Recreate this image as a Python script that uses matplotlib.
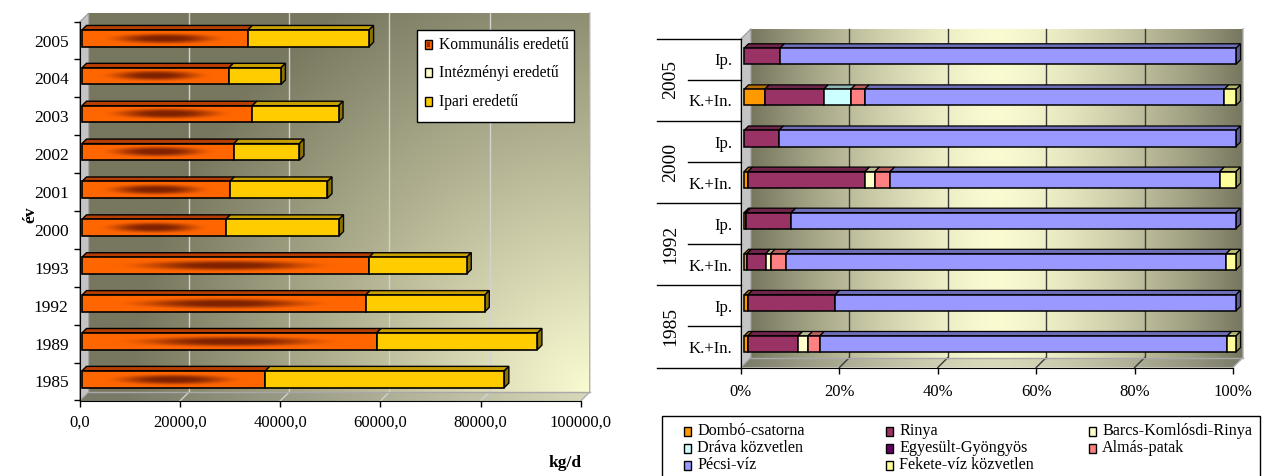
import numpy as np
import matplotlib
matplotlib.use("Agg")
import matplotlib.pyplot as plt
from matplotlib.patches import Polygon, Rectangle
from matplotlib.colors import to_rgb

plt.rcParams["font.family"] = ["Liberation Serif", "DejaVu Serif"]
plt.rcParams["font.size"] = 12

# ---------------- data: daily load by origin (kg/d) ----------------
years = ["1985", "1989", "1992", "1993", "2000", "2001", "2002", "2003", "2004", "2005"]
kommunalis = [36600, 58800, 56600, 57300, 28700, 29500, 30300, 34000, 29300, 33100]
intezmenyi = [0, 0, 0, 0, 0, 0, 0, 0, 0, 0]
ipari = [47700, 32100, 23800, 19500, 22600, 19500, 13100, 17200, 10400, 24200]
load_ticks = [0, 20000, 40000, 60000, 80000, 100000]
load_tick_labels = ["0,0", "20000,0", "40000,0", "60000,0", "80000,0", "100000,0"]
load_names = ["Kommunális eredetű", "Intézményi eredetű", "Ipari eredetű"]

# ---------------- data: share of receiving waters (%) ----------------
row_labels = ["K.+In.", "Ip.", "K.+In.", "Ip.", "K.+In.", "Ip.", "K.+In.", "Ip."]
group_years = ["1985", "1992", "2000", "2005"]
catchments = ["Dombó-csatorna", "Rinya", "Barcs-Komlósdi-Rinya", "Dráva közvetlen",
              "Egyesült-Gyöngyös", "Almás-patak", "Pécsi-víz", "Fekete-víz közvetlen"]
dombo = [0.8, 0.8, 0.6, 0.4, 0.8, 0.0, 4.2, 0.0]
rinya = [10.2, 17.7, 3.8, 9.2, 23.8, 7.1, 12.0, 7.3]
barcs = [2.0, 0.0, 1.0, 0.0, 2.0, 0.0, 0.0, 0.0]
drava = [0.0, 0.0, 0.0, 0.0, 0.0, 0.0, 5.5, 0.0]
gyongyos = [0.0, 0.0, 0.0, 0.0, 0.0, 0.0, 0.0, 0.0]
almas = [2.4, 0.0, 3.1, 0.0, 3.1, 0.0, 2.8, 0.0]
pecsi = [82.8, 81.5, 89.5, 90.4, 67.0, 92.9, 73.1, 92.7]
fekete = [1.8, 0.0, 2.0, 0.0, 3.3, 0.0, 2.4, 0.0]
pct_ticks = [0, 20, 40, 60, 80, 100]
pct_tick_labels = ["0%", "20%", "40%", "60%", "80%", "100%"]

W, H = 1269, 476
fig = plt.figure(figsize=(W / 100, H / 100), dpi=100)

ORANGE = "#FF6600"
GOLD = "#FFCC00"
catchment_colors = ["#FF9900", "#993366", "#FFFFCC", "#CCFFFF",
                    "#660066", "#FF8080", "#9999FF", "#FFFF99"]
WALL_LIGHT = np.array([251, 251, 210]) / 255
WALL_DARK = np.array([119, 119, 95]) / 255


def shade(color, f):
    return tuple(np.clip(np.array(to_rgb(color)) * f, 0, 1))


def fig_xy(x, y):
    return x / W, 1 - y / H


class Frame3D:
    """Maps (value, category, depth) onto a 2D axes drawn as an Excel-like 3D box."""

    def __init__(self, box, x0, sx, y0, pitch, depth):
        left, top, right, bottom = box
        self.ax = fig.add_axes([left / W, 1 - bottom / H, (right - left) / W, (bottom - top) / H])
        self.xlim = ((left - x0) / sx, (right - x0) / sx)
        self.ylim = ((y0 - bottom) / pitch, (y0 - top) / pitch)
        self.dx = depth / sx
        self.dy = depth / pitch

    def p(self, v, c, d):
        return (v + d * self.dx, c + d * self.dy)

    def poly(self, pts, **kw):
        patch = Polygon([self.p(*q) for q in pts], closed=True, **kw)
        self.ax.add_patch(patch)
        return patch

    def finish(self):
        self.ax.set_xlim(*self.xlim)
        self.ax.set_ylim(*self.ylim)
        self.ax.set_facecolor("none")
        self.ax.spines["top"].set_visible(False)
        self.ax.spines["right"].set_visible(False)
        for s in self.ax.spines.values():
            s.set_zorder(8)


def fill_gradient(fr, rgb, extent, clip, z):
    im = fr.ax.imshow(rgb, extent=extent, origin="lower", aspect="auto",
                      interpolation="bilinear", zorder=z)
    im.set_clip_path(clip)
    return im


def box_walls(fr, vmax, c_lo, c_hi, grad_fn, grid_vals, grid_color):
    ax = fr.ax
    # back wall
    back = fr.poly([(0, c_lo, 1), (vmax, c_lo, 1), (vmax, c_hi, 1), (0, c_hi, 1)],
                   facecolor="none", edgecolor="none", zorder=0)
    nx, ny = 300, 150
    u = np.linspace(0, 1, nx)[None, :]
    w = np.linspace(0, 1, ny)[:, None]
    x0, y0 = fr.p(0, c_lo, 1)
    x1, y1 = fr.p(vmax, c_hi, 1)
    fill_gradient(fr, grad_fn(u, w), (x0, x1, y0, y1), back, 0.5)
    # floor
    floor = fr.poly([(0, c_lo, 0), (vmax, c_lo, 0), (vmax, c_lo, 1), (0, c_lo, 1)],
                    facecolor="none", edgecolor="none", zorder=0)
    frgb = grad_fn(u, np.zeros((ny, 1)))
    frgb = frgb * 0.72 + np.array([0.5, 0.5, 0.5]) * 0.28
    fx0, fy0 = fr.p(0, c_lo, 0)
    fx1, fy1 = fr.p(vmax, c_lo, 1)
    fill_gradient(fr, frgb, (fx0, fx1, fy0, fy1), floor, 0.6)
    # left wall
    fr.poly([(0, c_lo, 0), (0, c_hi, 0), (0, c_hi, 1), (0, c_lo, 1)],
            facecolor="#c4c4c4", edgecolor="#9a9a9a", lw=0.8, zorder=1)
    # grid lines on back wall and floor
    for v in grid_vals:
        xs, ys = zip(fr.p(v, c_lo, 1), fr.p(v, c_hi, 1))
        ax.plot(xs, ys, color=grid_color, lw=1.0, zorder=2)
        xs, ys = zip(fr.p(v, c_lo, 0), fr.p(v, c_lo, 1))
        ax.plot(xs, ys, color=grid_color, lw=1.0, zorder=2)
    xs, ys = zip(fr.p(0, c_lo, 1), fr.p(vmax, c_lo, 1))
    ax.plot(xs, ys, color="#a8a8a8", lw=1.0, zorder=2)
    xs, ys = zip(fr.p(vmax, c_lo, 0), fr.p(vmax, c_lo, 1), fr.p(vmax, c_hi, 1))
    ax.plot(xs, ys, color="#b0b0b0", lw=1.0, zorder=2)


# =====================================================================
# Left chart: load by origin
# =====================================================================
L = Frame3D(box=(60, 5, 600, 412), x0=79.75, sx=100.2 / 20000, y0=381.45, pitch=37.88, depth=9.0)
lax = L.ax
L_LO, L_HI = -0.516, 9.489


def corner_gradient(u, w):
    dist = np.sqrt(((1 - u) * 501) ** 2 + (w * 379) ** 2) / 460.0
    t = np.clip(dist, 0, 1)
    t = t[..., None]
    return WALL_LIGHT * (1 - t) + WALL_DARK * t


box_walls(L, 100000, L_LO, L_HI, corner_gradient, load_ticks[1:-1], "#d2d2d2")

yc = np.arange(len(years))
BH = 0.44
D0, D1 = 0.25, 0.75
komm = np.array(kommunalis, float)
inte = np.array(intezmenyi, float)
ipa = np.array(ipari, float)

# kommunális: radial "from centre" shading on the front face
k_bars = lax.barh(yc + D0 * L.dy, komm, left=D0 * L.dx, height=BH,
                  facecolor="none", edgecolor="black", lw=1.2, zorder=6)
orange = np.array(to_rgb(ORANGE))
dark = np.array([128, 34, 0]) / 255
gx = np.linspace(-1, 1, 200)[None, :]
gy = np.linspace(-1, 1, 40)[:, None]
r = np.sqrt(gx ** 2 + gy ** 2)
s = np.clip((r - 0.15) / 0.65, 0, 1)
s = s * s * (3 - 2 * s)
kimg = orange * s[..., None] + dark * (1 - s[..., None])
for i, bar in enumerate(k_bars):
    x0b, y0b = bar.get_x(), bar.get_y()
    im = lax.imshow(kimg, extent=(x0b, x0b + bar.get_width(), y0b, y0b + bar.get_height()),
                    origin="lower", aspect="auto", interpolation="bilinear", zorder=5)
    im.set_clip_path(bar)

lax.barh(yc + D0 * L.dy, inte, left=komm + D0 * L.dx, height=BH,
         color="#FFFFCC", edgecolor="black", lw=1.2, zorder=6)
lax.barh(yc + D0 * L.dy, ipa, left=komm + inte + D0 * L.dx, height=BH,
         color=GOLD, edgecolor="black", lw=1.2, zorder=6)

for i in range(len(years)):
    top = i + BH / 2
    bot = i - BH / 2
    k = komm[i]
    tot = komm[i] + inte[i] + ipa[i]
    L.poly([(0, top, D0), (k, top, D0), (k, top, D1), (0, top, D1)],
           facecolor="#B83E00", edgecolor="black", lw=1.0, zorder=4)
    L.poly([(k, top, D0), (tot, top, D0), (tot, top, D1), (k, top, D1)],
           facecolor="#C8A000", edgecolor="black", lw=1.0, zorder=4)
    L.poly([(tot, bot, D0), (tot, top, D0), (tot, top, D1), (tot, bot, D1)],
           facecolor="#8C7400", edgecolor="black", lw=1.0, zorder=4)

L.finish()
lax.spines["left"].set_position(("data", 0))
lax.spines["left"].set_bounds(L_LO, L_HI)
lax.spines["bottom"].set_position(("data", L_LO))
lax.spines["bottom"].set_bounds(0, 100000)
lax.set_xticks(load_ticks)
lax.set_xticklabels(load_tick_labels)
lax.set_yticks(yc)
lax.set_yticklabels(years)
lax.set_yticks(np.arange(len(years) + 1) - 0.5, minor=True)
lax.tick_params(axis="x", length=4, width=1, pad=6, labelsize=12)
lax.tick_params(axis="y", which="major", length=0, pad=8, labelsize=12.5)
lax.tick_params(axis="y", which="minor", length=4, width=1)

fig.text(*fig_xy(30, 215), "év", rotation=90, ha="center", va="center",
         fontsize=12.5, fontweight="bold")
fig.text(*fig_xy(565, 463), "kg/d", ha="center", va="center", fontsize=12.5, fontweight="bold")

# legend of the left chart
fig.add_artist(Rectangle(fig_xy(417, 122), 157 / W, 92 / H, transform=fig.transFigure,
                         facecolor="white", edgecolor="black", lw=1.0, zorder=10))
leg_rows = [45, 73, 102]
leg_faces = [ORANGE, "#FFFFCC", GOLD]
for name, yy, fc in zip(load_names, leg_rows, leg_faces):
    fig.add_artist(Rectangle(fig_xy(425, yy + 4), 7 / W, 9 / H, transform=fig.transFigure,
                             facecolor=fc, edgecolor="black", lw=1.0, zorder=11))
    fig.text(*fig_xy(439, yy), name, ha="left", va="center", fontsize=11.2, zorder=11)
fig.add_artist(Rectangle(fig_xy(427, 45 + 2), 3 / W, 5 / H, transform=fig.transFigure,
                         facecolor="#9A2E00", edgecolor="none", zorder=12))

# =====================================================================
# Right chart: share of receiving waters
# =====================================================================
R = Frame3D(box=(735, 15, 1258, 380), x0=741, sx=4.92, y0=347, pitch=41.1, depth=10.0)
rax = R.ax
R_LO, R_HI = -0.5, 7.5


def centre_gradient(u, w):
    t = np.abs(u - 0.5) * 2 * np.ones_like(w)
    t = (t ** 1.45)[..., None]
    return WALL_LIGHT * (1 - t) + WALL_DARK * t


box_walls(R, 100, R_LO, R_HI, centre_gradient, pct_ticks[1:-1], "#3a3a3a")

series = [dombo, rinya, barcs, drava, gyongyos, almas, pecsi, fekete]
rows = np.arange(len(row_labels))
RBH = 0.39
E0, E1 = 0.3, 0.75
cum = np.zeros(len(rows))
for vals, col in zip(series, catchment_colors):
    vals = np.array(vals, float)
    m = vals > 0
    if m.any():
        rax.barh(rows[m] + E0 * R.dy, vals[m], left=cum[m] + E0 * R.dx, height=RBH,
                 color=col, edgecolor="black", lw=1.1, zorder=6)
        for rr in rows[m]:
            top = rr + RBH / 2
            a, b = cum[rr], cum[rr] + vals[rr]
            R.poly([(a, top, E0), (b, top, E0), (b, top, E1), (a, top, E1)],
                   facecolor=shade(col, 0.72), edgecolor="black", lw=0.9, zorder=4)
    cum = cum + vals
for rr in rows:
    # colour of the final (right-most) segment decides the side face
    idx = max(j for j, v in enumerate(series) if v[rr] > 0)
    top, bot = rr + RBH / 2, rr - RBH / 2
    R.poly([(cum[rr], bot, E0), (cum[rr], top, E0), (cum[rr], top, E1), (cum[rr], bot, E1)],
           facecolor=shade(catchment_colors[idx], 0.6), edgecolor="black", lw=0.9, zorder=4)

R.finish()
rax.spines["left"].set_position(("data", 0))
rax.spines["left"].set_bounds(R_LO, R_HI)
rax.spines["bottom"].set_position(("data", R_LO))
rax.spines["bottom"].set_bounds(0, 100)
rax.set_xticks(pct_ticks)
rax.set_xticklabels(pct_tick_labels)
rax.set_yticks(rows)
rax.set_yticklabels(row_labels)
rax.tick_params(axis="x", length=4, width=1, pad=8, labelsize=12)
rax.tick_params(axis="y", length=0, pad=6, labelsize=12)

# multi-level category axis: separators and year labels
x_outer = (657 - 741) / 4.92
x_inner = (688 - 741) / 4.92
for cpos in [7.5, 5.5, 3.5, 1.5, -0.5]:
    rax.plot([x_outer, 0], [cpos, cpos], color="black", lw=1.0, clip_on=False, zorder=8)
for cpos in [6.5, 4.5, 2.5, 0.5]:
    rax.plot([x_inner, 0], [cpos, cpos], color="black", lw=1.0, clip_on=False, zorder=8)
for yr, cpos in zip(group_years, [0.5, 2.5, 4.5, 6.5]):
    rax.text((671 - 741) / 4.92, cpos, yr, rotation=90, ha="center", va="center",
             fontsize=14, clip_on=False)

# legend of the right chart
fig.add_artist(Rectangle(fig_xy(662, 486), 598 / W, 70 / H, transform=fig.transFigure,
                         facecolor="white", edgecolor="black", lw=1.0, zorder=10))
col_x = [684, 886, 1089]
row_y = [431, 448, 465]
order = [(0, 0, 0), (1, 0, 1), (2, 0, 2), (3, 1, 0), (4, 1, 1), (5, 1, 2), (6, 2, 0), (7, 2, 1)]
for idx, rr, cc in order:
    x, y = col_x[cc], row_y[rr]
    fig.add_artist(Rectangle(fig_xy(x, y + 5), 7 / W, 9 / H, transform=fig.transFigure,
                             facecolor=catchment_colors[idx], edgecolor="black", lw=1.0, zorder=11))
    fig.text(*fig_xy(x + 13, y), catchments[idx], ha="left", va="center", fontsize=11.6, zorder=11)

fig.savefig("out.png", dpi=100)
